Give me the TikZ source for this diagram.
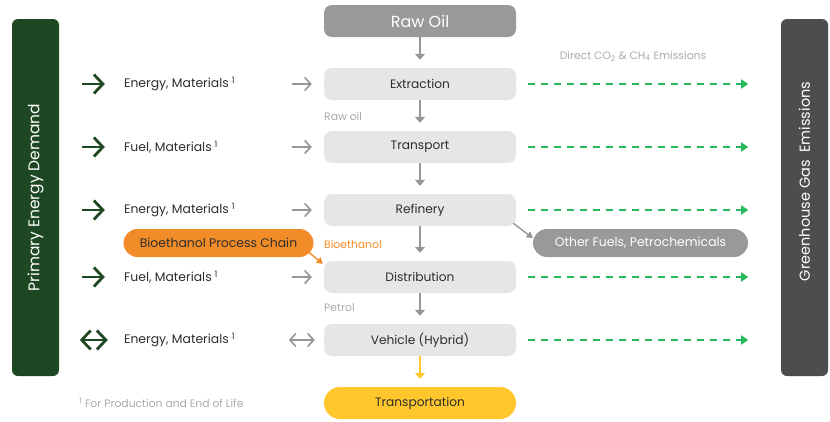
\documentclass[tikz,border=0pt]{standalone}
\usepackage{fontspec}
\usepackage{xcolor}
\usepackage{tikz}
\setmainfont{Poppins}
\usetikzlibrary{arrows.meta}
\definecolor{forest}{RGB}{30,72,35}
\definecolor{slate}{RGB}{77,77,79}
\definecolor{oilgray}{RGB}{153,153,153}
\definecolor{boxgray}{RGB}{230,230,229}
\definecolor{ink}{RGB}{45,45,45}
\definecolor{lightink}{RGB}{170,170,170}
\definecolor{arrowgray}{RGB}{150,150,150}
\definecolor{emitgreen}{RGB}{40,185,95}
\definecolor{tangerine}{RGB}{242,140,40}
\definecolor{sun}{RGB}{255,199,44}

\begin{document}
\begin{tikzpicture}[x=1pt, y=-1pt,
  bar/.style={rounded corners=6pt, minimum width=357pt, minimum height=47pt, inner sep=0pt,
              rotate=90},
  bartext/.style={rotate=90, text=white, font=\fontsize{15.5}{17}\selectfont, inner sep=0pt},
  stage/.style={fill=boxgray, rounded corners=8pt, minimum width=192pt, minimum height=32pt,
              inner sep=0pt, text=ink, font=\fontsize{12.2}{14}\selectfont},
  pill/.style={rounded corners=14pt, minimum height=28pt, inner sep=0pt,
              font=\fontsize{12.4}{14}\selectfont},
  input/.style={anchor=west, inner sep=0pt, text=ink, font=\fontsize{12.4}{14}\selectfont},
  note/.style={inner sep=0pt, text=lightink, font=\fontsize{10.8}{12}\selectfont},
  flow/.style={-{Triangle[length=6pt, width=10pt]}, line width=1.8pt, color=arrowgray},
  feed/.style={-{Straight Barb[length=6pt, width=13pt]}, line width=1.6pt, color=arrowgray},
  supply/.style={-{Straight Barb[length=9pt, width=19pt]}, line width=2.8pt, color=forest},
  emit/.style={-{Triangle[length=7pt, width=9pt]}, line width=1.8pt, color=emitgreen,
              dash pattern=on 7pt off 6pt},
  side/.style={-{Triangle[length=6pt, width=7pt]}, line width=1.4pt},
]
\useasboundingbox (0,0) rectangle (830,421);

% Bars
\node[bar, fill=forest] (demand) at (35.5,197.5) {};
\node[bartext] (demandlbl) at (demand.center) {Primary Energy Demand};
\node[bar, fill=slate] (ghg) at (804.5,197.5) {};
\node[bartext, font=\fontsize{14.5}{16}\selectfont] (ghglbl) at ([yshift=16pt]ghg.center) {Greenhouse Gas\ \ Emissions};

% Chain
\node[stage, fill=oilgray, text=white, font=\fontsize{16}{18}\selectfont] (rawoil) at (420,21) {Raw Oil};
\node[stage] (extr)   at (420,84)  {Extraction};
\node[stage] (transp) at (420,147) {Transport};
\node[stage] (refin)  at (420,210) {Refinery};
\node[stage] (distr)  at (420,277) {Distribution};
\node[stage] (vehic)  at (420,340) {Vehicle (Hybrid)};
\node[stage, fill=sun, rounded corners=16pt] (mobil) at (420,403) {Transportation};

% Side products
\node[pill, fill=tangerine, text=ink, minimum width=190pt] (bio) at (218.5,243) {Bioethanol Process Chain};
\node[pill, fill=oilgray, text=white, minimum width=215pt] (other) at (640.5,243) {Other Fuels, Petrochemicals};

% Inputs
\node[input] (inExtr)   at (124,84)  {Energy, Materials\kern3pt\textsuperscript{1}};
\node[input] (inTransp) at (124,147) {Fuel, Materials\kern3pt\textsuperscript{1}};
\node[input] (inRefin)  at (124,210) {Energy, Materials\kern3pt\textsuperscript{1}};
\node[input] (inDistr)  at (124,277) {Fuel, Materials\kern3pt\textsuperscript{1}};
\node[input] (inVehic)  at (124,340) {Energy, Materials\kern3pt\textsuperscript{1}};

% Notes
\node[note, anchor=west] (rawlbl) at (324,116) {Raw oil};
\node[note, anchor=west, text=tangerine] (biolbl) at (324,244) {Bioethanol};
\node[note, anchor=west] (petrollbl) at (324,308) {Petrol};
\node[note] (direct) at (633,56) {Direct CO\textsubscript{2} \& CH\textsubscript{4} Emissions};
\node[note, anchor=west] (foot) at (79,403) {\textsuperscript{1} For Production and End of Life};

% Flow
\draw[flow] (rawoil) -- ([yshift=8pt]extr.north);
\draw[flow] (extr) -- ([yshift=8pt]transp.north);
\draw[flow] (transp) -- ([yshift=8pt]refin.north);
\draw[flow] (refin) -- ([yshift=8pt]distr.north);
\draw[flow] (distr) -- ([yshift=8pt]vehic.north);
\draw[flow, color=sun] (vehic) -- ([yshift=8pt]mobil.north);

\draw[side, color=tangerine] ([shift={(-5pt,5pt)}]bio.south east) -- ([shift={(-1pt,-3pt)}]distr.north west);
\draw[side, color=arrowgray] ([shift={(-3pt,3pt)}]refin.south east) -- ([yshift=5pt]other.west);

% Supply
\draw[supply] ([xshift=-242pt]extr.west) -- ([xshift=-219pt]extr.west);
\draw[supply] ([xshift=-242pt]transp.west) -- ([xshift=-219pt]transp.west);
\draw[supply] ([xshift=-242pt]refin.west) -- ([xshift=-219pt]refin.west);
\draw[supply] ([xshift=-242pt]distr.west) -- ([xshift=-219pt]distr.west);
\draw[supply, {Straight Barb[length=9pt, width=19pt]}-{Straight Barb[length=9pt, width=19pt]}]
  ([xshift=-244pt]vehic.west) -- ([xshift=-216pt]vehic.west);

\draw[feed] ([xshift=-32pt]extr.west) -- ([xshift=-12pt]extr.west);
\draw[feed] ([xshift=-32pt]transp.west) -- ([xshift=-12pt]transp.west);
\draw[feed] ([xshift=-32pt]refin.west) -- ([xshift=-12pt]refin.west);
\draw[feed] ([xshift=-32pt]distr.west) -- ([xshift=-12pt]distr.west);
\draw[feed, {Straight Barb[length=6pt, width=13pt]}-{Straight Barb[length=6pt, width=13pt]}]
  ([xshift=-35pt]vehic.west) -- ([xshift=-9pt]vehic.west);

% Emissions
\draw[emit] ([xshift=12pt]extr.east) -- ([xshift=232pt]extr.east);
\draw[emit] ([xshift=12pt]transp.east) -- ([xshift=232pt]transp.east);
\draw[emit] ([xshift=12pt]refin.east) -- ([xshift=232pt]refin.east);
\draw[emit] ([xshift=12pt]distr.east) -- ([xshift=232pt]distr.east);
\draw[emit] ([xshift=12pt]vehic.east) -- ([xshift=232pt]vehic.east);

\end{tikzpicture}
\end{document}
